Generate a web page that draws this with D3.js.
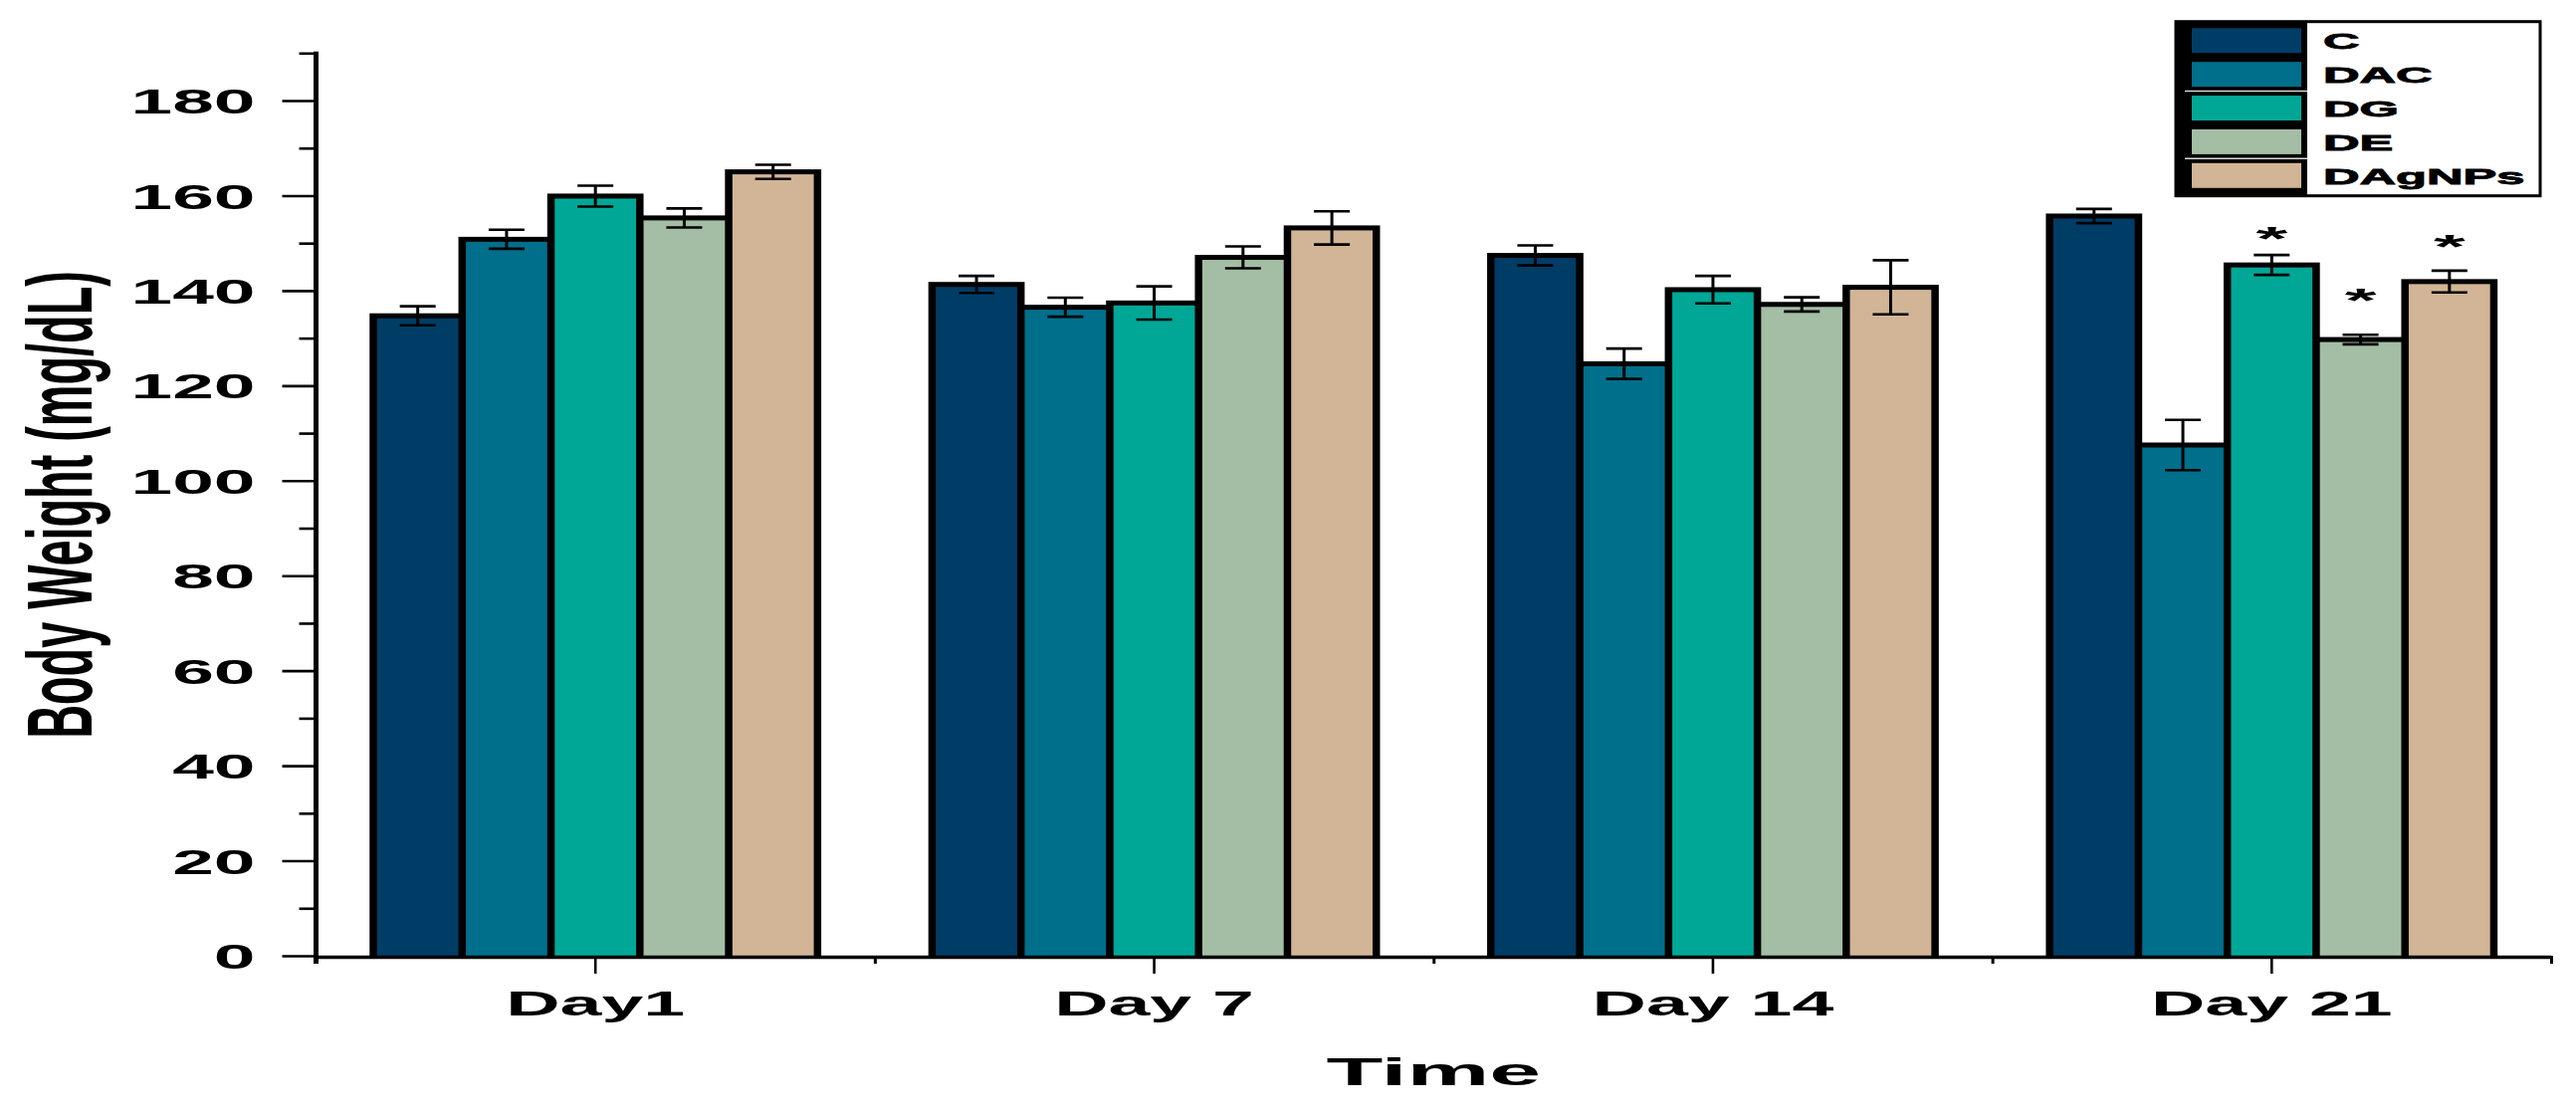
<!DOCTYPE html>
<html><head><meta charset="utf-8">
<script src="https://cdn.jsdelivr.net/npm/d3@7"></script>
<style>
html,body{margin:0;padding:0;background:#fff;}
svg{display:block;}
text{font-family:"Liberation Sans",Arial,sans-serif;font-weight:bold;fill:#000;}
</style>
</head><body>
<svg id="chart" width="2588" height="1125"></svg>
<script>
// ---- data ----
const categories = ["Day1", "Day 7", "Day 14", "Day 21"];
const seriesNames = ["C", "DAC", "DG", "DE", "DAgNPs"];
const valuesC      = [134.7, 141.3, 147.4, 155.7];
const valuesDAC    = [150.8, 136.5, 124.6, 107.5];
const valuesDG     = [159.9, 137.4, 140.2, 145.4];
const valuesDE     = [155.3, 147.0, 137.1, 129.7];
const valuesDAgNPs = [165.0, 153.2, 140.7, 141.9];
const errC      = [2.0, 1.8, 2.1, 1.5];
const errDAC    = [2.0, 2.0, 3.2, 5.3];
const errDG     = [2.2, 3.5, 2.9, 2.1];
const errDE     = [2.0, 2.3, 1.5, 1.0];
const errDAgNPs = [1.5, 3.5, 5.7, 2.3];
// significance marks (category, series, value level of the asterisk)
const starCategory = ["Day 21", "Day 21", "Day 21"];
const starSeries   = ["DG", "DE", "DAgNPs"];
const starLevel    = [152.6, 139.8, 151.0];
const yTicks = [0, 20, 40, 60, 80, 100, 120, 140, 160, 180];
const yMinorTicks = [10, 30, 50, 70, 90, 110, 130, 150, 170, 190];
const yTitle = "Body Weight (mg/dL)";
const xTitle = "Time";

// ---- styles ----
const palette = ["#003D66", "#006F8C", "#00A797", "#A3BEA5", "#D1B596"];

const allValues = [valuesC, valuesDAC, valuesDG, valuesDE, valuesDAgNPs];
const allErr = [errC, errDAC, errDG, errDE, errDAgNPs];
const rows = [];
categories.forEach((c, i) => seriesNames.forEach((s, j) => rows.push({cat: c, ser: s, v: allValues[j][i], e: allErr[j][i], color: palette[j]})));

const svg = d3.select("#chart");
const x0 = d3.scaleBand().domain(categories).range([317.5, 2563]).paddingInner(0.205).paddingOuter(0.1025);
const x1 = d3.scaleBand().domain(seriesNames).range([0, x0.bandwidth()]).padding(0);
const y = d3.scaleLinear().domain([0, 190]).range([960, 53.3]);

function stretch(sel, f) {
  sel.each(function () {
    const n = this.getComputedTextLength();
    d3.select(this).attr("textLength", n * f).attr("lengthAdjust", "spacingAndGlyphs");
  });
}

// ---- bars ----
const bw = x1.bandwidth();
const bx = d => x0(d.cat) + x1(d.ser);
const bars = svg.append("g");
bars.selectAll("rect.out").data(rows).join("rect").attr("class", "out")
  .attr("x", d => bx(d) - 3.75).attr("y", d => y(d.v) - 2.5)
  .attr("width", bw + 7.5).attr("height", d => y(0) - y(d.v) + 2.5).attr("fill", "#000");
bars.selectAll("rect.in").data(rows).join("rect").attr("class", "in")
  .attr("x", d => bx(d) + 3.75).attr("y", d => y(d.v) + 2.5)
  .attr("width", bw - 7.5).attr("height", d => y(0) - y(d.v) - 2.5).attr("fill", d => d.color);

// ---- error bars ----
const eb = svg.append("g").attr("stroke", "#000");
const capW = 36;
eb.selectAll("line.v").data(rows).join("line").attr("class", "v")
  .attr("x1", d => bx(d) + bw / 2).attr("x2", d => bx(d) + bw / 2)
  .attr("y1", d => y(d.v + d.e)).attr("y2", d => y(d.v - d.e)).attr("stroke-width", 3);
eb.selectAll("line.t").data(rows).join("line").attr("class", "t")
  .attr("x1", d => bx(d) + bw / 2 - capW / 2).attr("x2", d => bx(d) + bw / 2 + capW / 2)
  .attr("y1", d => y(d.v + d.e)).attr("y2", d => y(d.v + d.e)).attr("stroke-width", 2.6);
eb.selectAll("line.b").data(rows).join("line").attr("class", "b")
  .attr("x1", d => bx(d) + bw / 2 - capW / 2).attr("x2", d => bx(d) + bw / 2 + capW / 2)
  .attr("y1", d => y(d.v - d.e)).attr("y2", d => y(d.v - d.e)).attr("stroke-width", 2.6);

// ---- asterisks ----
const starF = 34;
svg.append("g").selectAll("text").data(starLevel.map((l, i) => ({cat: starCategory[i], ser: starSeries[i], l})))
  .join("text")
  .attr("x", d => x0(d.cat) + x1(d.ser) + bw / 2)
  .attr("y", d => y(d.l) + 0.58 * starF)
  .attr("text-anchor", "middle").style("font-size", starF + "px")
  .text("*").call(stretch, 2.4);

// ---- y axis ----
const yAxisG = svg.append("g").attr("transform", "translate(317.5,0)");
const yMajor = yAxisG.append("g").call(d3.axisLeft(y).tickValues(yTicks).tickSize(34).tickSizeOuter(0).tickPadding(27));
yMajor.select(".domain").remove();
yMajor.selectAll(".tick line").attr("stroke", "#000").attr("stroke-width", 2.6);
yMajor.selectAll(".tick text").attr("dy", "0.36em").style("font-size", "35px").attr("fill", "#000").call(stretch, 2.14);
const yMinor = yAxisG.append("g").call(d3.axisLeft(y).tickValues(yMinorTicks).tickSize(17).tickSizeOuter(0).tickFormat(""));
yMinor.select(".domain").remove();
yMinor.selectAll(".tick line").attr("stroke", "#000").attr("stroke-width", 2.6);
yAxisG.append("line").attr("x1", 0).attr("x2", 0).attr("y1", y(0) + 8).attr("y2", y(190) - 1.5)
  .attr("stroke", "#000").attr("stroke-width", 5);

// ---- x axis ----
const xAxisG = svg.append("g").attr("transform", "translate(0,960)");
const xMajor = xAxisG.append("g").call(d3.axisBottom(x0).tickSize(18).tickSizeOuter(0).tickPadding(17));
xMajor.select(".domain").remove();
xMajor.selectAll(".tick line").attr("stroke", "#000").attr("stroke-width", 2.6);
xMajor.selectAll(".tick text").style("font-size", "35px").attr("fill", "#000").call(stretch, 2.15);
const xb = d3.scaleLinear().domain([0, categories.length]).range(x0.range());
const xMinor = xAxisG.append("g").call(d3.axisBottom(xb).tickValues(d3.range(0, categories.length + 1)).tickSize(8).tickSizeOuter(0).tickFormat(""));
xMinor.select(".domain").remove();
xMinor.selectAll(".tick line").attr("stroke", "#000").attr("stroke-width", 3);
xAxisG.append("line").attr("x1", x0.range()[0]).attr("x2", x0.range()[1]).attr("y1", 1.5).attr("y2", 1.5)
  .attr("stroke", "#000").attr("stroke-width", 3.5);

// ---- axis titles ----
svg.append("text").attr("transform", "translate(92,507) rotate(-90) scale(1,2)")
  .attr("text-anchor", "middle").style("font-size", "46.8px").text(yTitle);
svg.append("text").attr("x", (x0.range()[0] + x0.range()[1]) / 2).attr("y", 1090)
  .attr("text-anchor", "middle").style("font-size", "38px").text(xTitle).call(stretch, 2.45);

// ---- legend ----
const lg = svg.append("g");
lg.append("rect").attr("x", 2186).attr("y", 21.7).attr("width", 366).attr("height", 175)
  .attr("fill", "#fff").attr("stroke", "#000").attr("stroke-width", 3);
lg.append("rect").attr("x", 2186).attr("y", 21.7).attr("width", 132).attr("height", 175).attr("fill", "#000");
const ly = d3.scalePoint().domain(seriesNames).range([40.8, 176.3]);
lg.selectAll("rect.sw").data(seriesNames).join("rect").attr("class", "sw")
  .attr("x", 2202).attr("y", d => ly(d) - 12.5).attr("width", 110).attr("height", 25)
  .attr("fill", (d, i) => palette[i]);
lg.selectAll("line.sep").data([1, 3]).join("line").attr("class", "sep")
  .attr("x1", 2195).attr("x2", 2318)
  .attr("y1", i => (ly(seriesNames[i]) + ly(seriesNames[i + 1])) / 2)
  .attr("y2", i => (ly(seriesNames[i]) + ly(seriesNames[i + 1])) / 2)
  .attr("stroke", "#d8d8d8").attr("stroke-width", 1.5);
lg.selectAll("text").data(seriesNames).join("text")
  .attr("x", 2334).attr("y", d => ly(d) + 8.2).style("font-size", "22.5px")
  .attr("stroke", "#000").attr("stroke-width", 0.8)
  .text(d => d).call(stretch, 2.25);
</script>
</body></html>
